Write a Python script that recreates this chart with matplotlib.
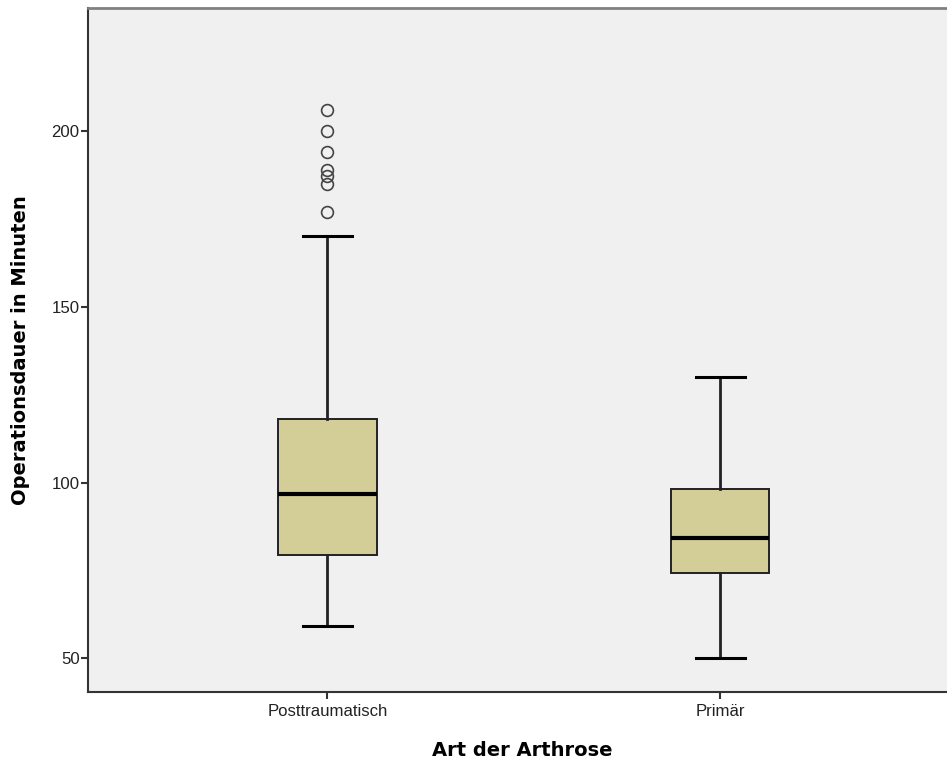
import matplotlib
matplotlib.use("Agg")
import matplotlib.pyplot as plt

# --- Data: duration of surgery by type of arthrosis (minutes) ---
GROUPS = ["Posttraumatisch", "Primär"]
WHISKER_LOW = [59.1, 50.1]
Q1 = [79.3, 74.2]
MEDIAN = [96.7, 84.2]
Q3 = [118.1, 98.2]
WHISKER_HIGH = [170.1, 130.1]
OUTLIERS_POST = [206.0, 200.0, 194.0, 189.0, 187.2, 185.0, 177.0]
OUTLIERS_PRIM = []
Y_TICKS = [50, 100, 150, 200]

BOX_COLOR = "#D3CE98"
BG_COLOR = "#F0F0F0"


def build_stats():
    outliers = [OUTLIERS_POST, OUTLIERS_PRIM]
    stats = []
    for i, name in enumerate(GROUPS):
        stats.append({
            "label": name,
            "whislo": WHISKER_LOW[i],
            "q1": Q1[i],
            "med": MEDIAN[i],
            "q3": Q3[i],
            "whishi": WHISKER_HIGH[i],
            "fliers": outliers[i],
        })
    return stats


fig = plt.figure(figsize=(9.47, 7.62), dpi=100)
ax = fig.add_axes([88 / 947, 70 / 762, 1 - 88 / 947, 684 / 762])
ax.set_facecolor(BG_COLOR)

ax.bxp(
    build_stats(),
    positions=[1, 2],
    widths=0.25,
    patch_artist=True,
    showfliers=True,
    boxprops=dict(facecolor=BOX_COLOR, edgecolor="#222222", linewidth=1.4),
    medianprops=dict(color="black", linewidth=3),
    whiskerprops=dict(color="#222222", linewidth=2),
    capprops=dict(color="black", linewidth=2.2),
    capwidths=0.125,
    flierprops=dict(marker="o", markersize=8.5, markerfacecolor="none",
                    markeredgecolor="#444444", markeredgewidth=1.2),
)

ax.set_xlim(0.39, 2.578)
ax.set_ylim(40.4, 235.0)
ax.set_yticks(Y_TICKS)
ax.set_xticks([1, 2])
ax.set_xticklabels(GROUPS)

ax.tick_params(axis="both", direction="out", length=5, width=1.5,
               color="#333333", labelsize=12.1, labelcolor="#222222")
ax.tick_params(axis="y", pad=1)
ax.tick_params(axis="x", pad=4)
for lbl in ax.get_xticklabels() + ax.get_yticklabels():
    lbl.set_family("Liberation Sans")

for side in ["left", "bottom"]:
    ax.spines[side].set_color("#333333")
    ax.spines[side].set_linewidth(1.5)
ax.spines["top"].set_color("#808080")
ax.spines["top"].set_linewidth(2)
ax.spines["right"].set_visible(False)

label_font = dict(family="DejaVu Sans", fontweight="bold", fontsize=14, color="black")
ax.set_ylabel("Operationsdauer in Minuten", **label_font)
ax.set_xlabel("Art der Arthrose", **label_font)
ax.yaxis.set_label_coords(-0.079, 0.5, transform=ax.transAxes)
ax.xaxis.set_label_coords(0.505, -0.085, transform=ax.transAxes)
ax.xaxis.label.set_va("center")
ax.yaxis.label.set_va("center")

fig.savefig("out.png", dpi=100, facecolor="white")
